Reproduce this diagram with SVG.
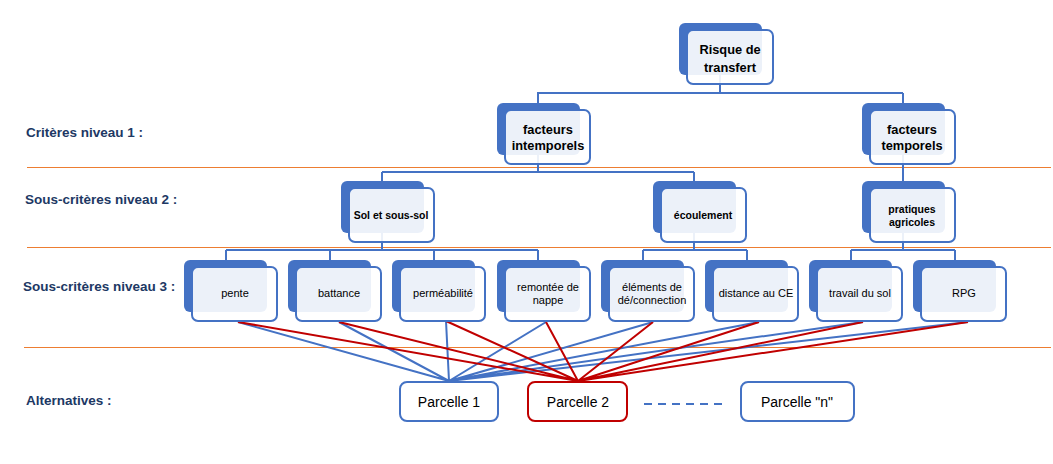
<svg xmlns="http://www.w3.org/2000/svg" width="1053" height="464" viewBox="0 0 1053 464">
<style>
.bg{fill:#fff}
.sep{stroke:#ED7D31;stroke-width:1;fill:none}
.lbl{font-family:"Liberation Sans",Arial,sans-serif;font-weight:bold;font-size:13.5px;fill:#203864}
.tree{stroke:#4472C4;stroke-width:2;fill:none}
.bl{stroke:#4472C4;stroke-width:2;fill:none}
.rd{stroke:#C00000;stroke-width:2;fill:none}
.back{fill:#4472C4}
.front{fill:#fff;fill-opacity:0.9;stroke:#4472C4;stroke-width:2}
.t1{font-family:"Liberation Sans",Arial,sans-serif;font-weight:bold;font-size:12.8px;fill:#000;text-anchor:middle}
.t2{font-family:"Liberation Sans",Arial,sans-serif;font-weight:bold;font-size:10.5px;fill:#000;text-anchor:middle}
.t3{font-family:"Liberation Sans",Arial,sans-serif;font-size:11px;fill:#000;text-anchor:middle}
.alt{fill:#fff;stroke-width:2}
.ta{font-family:"Liberation Sans",Arial,sans-serif;font-size:14px;fill:#000;text-anchor:middle}
</style>
<rect class="bg" x="0" y="0" width="1053" height="464"/>

<g id="separators">
<line class="sep" x1="27" y1="167.5" x2="1051" y2="167.5"/>
<line class="sep" x1="27" y1="247.5" x2="1051" y2="247.5"/>
<line class="sep" x1="24" y1="347.5" x2="1051" y2="347.5"/>
</g>

<g id="level-labels">
<text class="lbl" x="26" y="137">Critères niveau 1 :</text>
<text class="lbl" x="25" y="204">Sous-critères niveau 2 :</text>
<text class="lbl" x="23" y="291">Sous-critères niveau 3 :</text>
<text class="lbl" x="26" y="405">Alternatives :</text>
</g>

<g id="connectors">
<path class="tree" d="M720 60V93M537 93H903M538 93V103M903 93V103"/>
<path class="tree" d="M538 140V172M382 172H694M382 172V181M694 172V181"/>
<path class="tree" d="M903 140V181"/>
<path class="tree" d="M382 220V250M226 250H538M226 250V260M330 250V260M434 250V260M538 250V260"/>
<path class="tree" d="M694 220V250M643 250H747M643 250V260M747 250V260"/>
<path class="tree" d="M903 220V250M851 250H955M851 250V260M955 250V260"/>
<g id="links-parcelle1">
<path class="bl" d="M238 322L449 381M339 322L449 381M446 321L449 381M546 322L449 381M653 322L449 381M759 322L449 381M863 322L449 381M968 322L449 381"/>
</g>
<g id="links-parcelle2">
<path class="rd" d="M238 322L578 381M339 322L578 381M446 321L578 381M546 322L578 381M653 322L578 381M759 322L578 381M863 322L578 381M968 322L578 381"/>
</g>
<line x1="644" y1="404" x2="722" y2="404" stroke="#4472C4" stroke-width="2" stroke-dasharray="8 6"/>
</g>

<g id="n-risque">
<rect class="back" x="679" y="23" width="83" height="52" rx="6"/>
<rect class="front" x="687" y="30" width="86" height="54" rx="6"/>
<text class="t1" x="730" y="54">Risque de</text>
<text class="t1" x="730" y="72">transfert</text>
</g>

<g id="n-intemporels">
<rect class="back" x="497" y="103" width="83" height="52" rx="6"/>
<rect class="front" x="505" y="110" width="85" height="54" rx="6"/>
<text class="t1" x="548" y="134">facteurs</text>
<text class="t1" x="548" y="150">intemporels</text>
</g>

<g id="n-temporels">
<rect class="back" x="862" y="103" width="83" height="52" rx="6"/>
<rect class="front" x="870" y="110" width="85" height="54" rx="6"/>
<text class="t1" x="912" y="134">facteurs</text>
<text class="t1" x="912" y="150">temporels</text>
</g>

<g id="n-sol">
<rect class="back" x="341" y="181" width="83" height="52" rx="6"/>
<rect class="front" x="349" y="188" width="85" height="54" rx="6"/>
<text class="t2" x="391" y="219">Sol et sous-sol</text>
</g>

<g id="n-ecoulement">
<rect class="back" x="653" y="181" width="83" height="52" rx="6"/>
<rect class="front" x="661" y="188" width="85" height="54" rx="6"/>
<text class="t2" x="703" y="219">écoulement</text>
</g>

<g id="n-pratiques">
<rect class="back" x="862" y="181" width="83" height="52" rx="6"/>
<rect class="front" x="870" y="188" width="85" height="54" rx="6"/>
<text class="t2" x="912" y="213">pratiques</text>
<text class="t2" x="912" y="226">agricoles</text>
</g>

<g id="n-pente">
<rect class="back" x="184" y="260" width="83" height="52" rx="6"/>
<rect class="front" x="192" y="267" width="85" height="54" rx="6"/>
<text class="t3" x="235" y="297">pente</text>
</g>

<g id="n-battance">
<rect class="back" x="288" y="260" width="83" height="52" rx="6"/>
<rect class="front" x="296" y="267" width="85" height="54" rx="6"/>
<text class="t3" x="339" y="297">battance</text>
</g>

<g id="n-permeabilite">
<rect class="back" x="392" y="260" width="83" height="52" rx="6"/>
<rect class="front" x="400" y="267" width="85" height="54" rx="6"/>
<text class="t3" x="443" y="297">perméabilité</text>
</g>

<g id="n-remontee">
<rect class="back" x="497" y="260" width="83" height="52" rx="6"/>
<rect class="front" x="505" y="267" width="85" height="54" rx="6"/>
<text class="t3" x="548" y="291">remontée de</text>
<text class="t3" x="548" y="304">nappe</text>
</g>

<g id="n-elements">
<rect class="back" x="601" y="260" width="83" height="52" rx="6"/>
<rect class="front" x="609" y="267" width="85" height="54" rx="6"/>
<text class="t3" x="652" y="291">éléments de</text>
<text class="t3" x="652" y="304">dé/connection</text>
</g>

<g id="n-distance">
<rect class="back" x="705" y="260" width="83" height="52" rx="6"/>
<rect class="front" x="713" y="267" width="85" height="54" rx="6"/>
<text class="t3" x="756" y="297">distance au CE</text>
</g>

<g id="n-travail">
<rect class="back" x="809" y="260" width="83" height="52" rx="6"/>
<rect class="front" x="817" y="267" width="85" height="54" rx="6"/>
<text class="t3" x="860" y="297">travail du sol</text>
</g>

<g id="n-rpg">
<rect class="back" x="913" y="260" width="83" height="52" rx="6"/>
<rect class="front" x="921" y="267" width="85" height="54" rx="6"/>
<text class="t3" x="964" y="297">RPG</text>
</g>

<g id="n-parcelle1">
<rect class="alt" x="400" y="382" width="98" height="39" rx="7" stroke="#4472C4"/>
<text class="ta" x="449" y="407">Parcelle 1</text>
</g>

<g id="n-parcelle2">
<rect class="alt" x="528" y="382" width="99" height="39" rx="7" stroke="#C00000"/>
<text class="ta" x="578" y="407">Parcelle 2</text>
</g>

<g id="n-parcellen">
<rect class="alt" x="741" y="382" width="113" height="39" rx="7" stroke="#4472C4"/>
<text class="ta" x="797" y="407">Parcelle "n"</text>
</g>
</svg>
